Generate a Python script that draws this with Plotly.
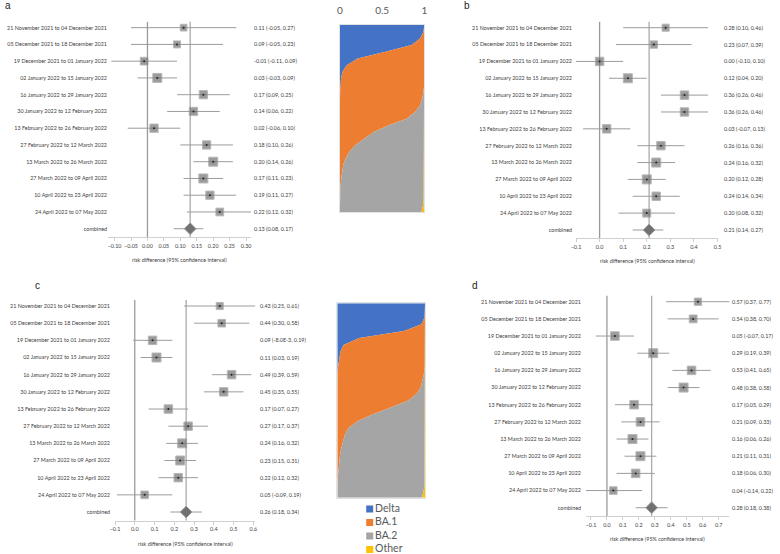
import plotly.graph_objects as go

W, H = 780, 554
FONT = "Lato"
TXT = "#404040"
SMALL = 5.4

periods = [
    "21 November 2021 to 04 December 2021",
    "05 December 2021 to 18 December 2021",
    "19 December 2021 to 01 January 2022",
    "02 January 2022 to 15 January 2022",
    "16 January 2022 to 29 January 2022",
    "30 January 2022 to 12 February 2022",
    "13 February 2022 to 26 February 2022",
    "27 February 2022 to 12 March 2022",
    "13 March 2022 to 26 March 2022",
    "27 March 2022 to 09 April 2022",
    "10 April 2022 to 23 April 2022",
    "24 April 2022 to 07 May 2022",
]
row_labels = periods + ["combined"]

# risk differences per fortnight, with 95% CI, and the pooled estimate
a_est = [0.11, 0.09, -0.01, 0.03, 0.17, 0.14, 0.02, 0.18, 0.20, 0.17, 0.19, 0.22]
a_lo = [-0.05, -0.05, -0.11, -0.03, 0.09, 0.06, -0.06, 0.10, 0.14, 0.11, 0.11, 0.12]
a_hi = [0.27, 0.23, 0.09, 0.09, 0.25, 0.22, 0.10, 0.26, 0.26, 0.23, 0.27, 0.32]
a_comb = [0.13, 0.08, 0.17]

b_est = [0.28, 0.23, 0.00, 0.12, 0.36, 0.36, 0.03, 0.26, 0.24, 0.20, 0.24, 0.20]
b_lo = [0.10, 0.07, -0.10, 0.04, 0.26, 0.26, -0.07, 0.16, 0.16, 0.12, 0.14, 0.08]
b_hi = [0.46, 0.39, 0.10, 0.20, 0.46, 0.46, 0.13, 0.36, 0.32, 0.28, 0.34, 0.32]
b_comb = [0.21, 0.14, 0.27]

c_est = [0.43, 0.44, 0.09, 0.11, 0.49, 0.45, 0.17, 0.27, 0.24, 0.23, 0.22, 0.05]
c_lo = [0.25, 0.30, -0.008, 0.03, 0.39, 0.35, 0.07, 0.17, 0.16, 0.15, 0.12, -0.09]
c_hi = [0.61, 0.58, 0.19, 0.19, 0.59, 0.55, 0.27, 0.37, 0.32, 0.31, 0.32, 0.19]
c_comb = [0.26, 0.18, 0.34]

d_est = [0.57, 0.54, 0.05, 0.29, 0.53, 0.48, 0.17, 0.21, 0.16, 0.21, 0.18, 0.04]
d_lo = [0.37, 0.38, -0.07, 0.19, 0.41, 0.38, 0.05, 0.09, 0.06, 0.11, 0.06, -0.14]
d_hi = [0.77, 0.70, 0.17, 0.39, 0.65, 0.58, 0.29, 0.33, 0.26, 0.31, 0.30, 0.22]
d_comb = [0.28, 0.18, 0.38]

# variant proportions, one row per sample slice from top to bottom
variants = ["Delta", "BA.1", "BA.2", "Other"]
variant_colors = ["#4472C4", "#ED7D31", "#A5A5A5", "#FFC000"]

top_delta = [1.0, 0.99, 0.95, 0.85, 0.54, 0.21, 0.08, 0.03, 0.012, 0.005, 0.002,
             0, 0, 0, 0, 0, 0, 0, 0, 0, 0, 0, 0, 0, 0, 0, 0, 0, 0]
top_ba1 = [0, 0.01, 0.05, 0.15, 0.46, 0.79, 0.92, 0.97, 0.988, 0.993, 0.988,
           0.975, 0.95, 0.89, 0.79, 0.58, 0.40, 0.28, 0.175, 0.11, 0.065,
           0.037, 0.022, 0.015, 0.006, 0.002, 0, 0, 0]
top_ba2 = [0, 0, 0, 0, 0, 0, 0, 0, 0, 0.002, 0.01, 0.025, 0.05, 0.11, 0.21,
           0.42, 0.599, 0.719, 0.824, 0.889, 0.933, 0.961, 0.976, 0.982,
           0.990, 0.993, 0.992, 0.985, 0.965]
top_other = [0, 0, 0, 0, 0, 0, 0, 0, 0, 0, 0, 0, 0, 0, 0, 0, 0.001, 0.001,
             0.001, 0.001, 0.002, 0.002, 0.002, 0.003, 0.004, 0.005, 0.008,
             0.015, 0.035]

low_delta = [1.0, 1.0, 0.995, 0.96, 0.76, 0.25, 0.07, 0.035, 0.02, 0.01, 0.003,
             0, 0, 0, 0, 0, 0, 0, 0, 0, 0, 0, 0, 0, 0, 0, 0, 0, 0]
low_ba1 = [0, 0, 0.005, 0.04, 0.24, 0.75, 0.93, 0.965, 0.98, 0.987, 0.987,
           0.975, 0.955, 0.91, 0.81, 0.61, 0.40, 0.23, 0.125, 0.085, 0.06,
           0.043, 0.03, 0.02, 0.013, 0.007, 0.003, 0, 0]
low_ba2 = [0, 0, 0, 0, 0, 0, 0, 0, 0, 0.003, 0.01, 0.025, 0.045, 0.09, 0.19,
           0.39, 0.60, 0.77, 0.875, 0.915, 0.94, 0.957, 0.97, 0.98, 0.987,
           0.992, 0.992, 0.985, 0.965]
low_other = [0, 0, 0, 0, 0, 0, 0, 0, 0, 0, 0, 0, 0, 0, 0, 0, 0, 0, 0, 0, 0, 0,
             0, 0, 0, 0.001, 0.005, 0.015, 0.035]


def fx(p):
    return p / W


def fy(p):
    return 1 - p / H


def fmt(v):
    if v != 0 and abs(v) < 0.01:
        return f"{v:.1E}".replace("E-0", "E-")
    return f"{v:.2f}"


fig = go.Figure()
annotations = []
shapes = []


def add_forest(n, est, lo, hi, comb, xrange, dtick, tfmt, xpx, ypx, txt_shift, standoff):
    key = "" if n == 1 else str(n)
    xa, ya = "x" + key, "y" + key
    rows = list(range(len(est)))
    widths = [h - l for l, h in zip(lo, hi)]
    sizes = [9 * (min(widths) / w) ** 0.3 for w in widths]

    fig.add_trace(go.Scatter(
        x=est, y=rows, xaxis=xa, yaxis=ya, mode="markers", showlegend=False,
        marker=dict(symbol="square", size=sizes, color="#717171",
                    line=dict(color="#9a9a9a", width=1)),
        error_x=dict(type="data", symmetric=False,
                     array=[h - e for e, h in zip(est, hi)],
                     arrayminus=[e - l for e, l in zip(est, lo)],
                     color="#9c9c9c", thickness=1, width=0),
    ))
    # small point in the middle of each box
    fig.add_trace(go.Scatter(
        x=est, y=rows, xaxis=xa, yaxis=ya, mode="markers", showlegend=False,
        marker=dict(size=2, color="#222222"),
    ))
    ci = len(est)
    fig.add_trace(go.Scatter(
        x=[comb[0]], y=[ci], xaxis=xa, yaxis=ya, mode="markers", showlegend=False,
        marker=dict(symbol="diamond", size=9, color="#717171",
                    line=dict(color="#9a9a9a", width=1)),
        error_x=dict(type="data", symmetric=False, array=[comb[2] - comb[0]],
                     arrayminus=[comb[0] - comb[1]], color="#9c9c9c",
                     thickness=1, width=0),
    ))

    for xv, col in [(0, "#9a9a9a"), (comb[0], "#ababab")]:
        shapes.append(dict(type="line", xref=xa, yref=f"{ya} domain", x0=xv, x1=xv,
                           y0=0, y1=1, layer="below",
                           line=dict(color=col, width=1.3)))

    for r, e, l, h in zip(rows + [ci], est + [comb[0]], lo + [comb[1]], hi + [comb[2]]):
        annotations.append(dict(
            xref=f"{xa} domain", yref=ya, x=1, y=r, xanchor="left", yanchor="middle",
            xshift=txt_shift, showarrow=False, text=f"{fmt(e)} ({fmt(l)}, {fmt(h)})",
            font=dict(family=FONT, size=SMALL, color=TXT)))
    annotations.append(dict(
        xref=f"{xa} domain", yref=f"{ya} domain", x=0.5, y=0, yshift=-23,
        xanchor="center", yanchor="middle", showarrow=False,
        text="risk difference (95% confidence interval)",
        font=dict(family=FONT, size=SMALL, color=TXT)))

    fig.layout["xaxis" + key] = dict(
        domain=[fx(xpx[0]), fx(xpx[1])], range=xrange, anchor=ya, automargin=False,
        tick0=-0.1, dtick=dtick, tickformat=tfmt, tickangle=0, showgrid=False,
        zeroline=False, showline=True, linecolor="#d0d0d0", linewidth=1,
        ticks="outside", ticklen=3, tickcolor="#d0d0d0",
        tickfont=dict(family=FONT, size=SMALL, color=TXT))
    fig.layout["yaxis" + key] = dict(
        domain=[fy(ypx[1]), fy(ypx[0])], range=[12.5, -0.35], anchor=xa,
        automargin=False, tickvals=rows + [ci], ticktext=row_labels, ticks="",
        showgrid=False, zeroline=False, showline=False, ticklabelstandoff=standoff,
        tickfont=dict(family=FONT, size=SMALL, color=TXT))


add_forest(1, a_est, a_lo, a_hi, a_comb, [-0.12, 0.315], 0.05, ".2f",
           (108, 251), (21.8, 237.1), 1, 0)
add_forest(2, b_est, b_lo, b_hi, b_comb, [-0.1, 0.502], 0.1, ".1f",
           (576, 718), (21.8, 238.4), 4, 3)
add_forest(3, c_est, c_lo, c_hi, c_comb, [-0.1, 0.61], 0.1, ".1f",
           (115, 255.3), (300, 520.6), 3, 4)
add_forest(4, d_est, d_lo, d_hi, d_comb, [-0.131, 0.767], 0.1, ".1f",
           (586, 729.4), (295.7, 516.3), 1, 4)

# stacked variant share panels
panels = [
    (5, (340, 424.3), (25, 212.3), True, [top_delta, top_ba1, top_ba2, top_other]),
    (6, (337.3, 425), (303.3, 497.7), False, [low_delta, low_ba1, low_ba2, low_other]),
]
for n, xpx, ypx, labels, shares in panels:
    slices = list(range(len(shares[0])))
    for name, col, vals in zip(variants, variant_colors, shares):
        fig.add_trace(go.Scatter(
            x=vals, y=slices, xaxis=f"x{n}", yaxis=f"y{n}", mode="lines",
            stackgroup=f"s{n}", orientation="h", fillcolor=col,
            line=dict(width=0, color=col), showlegend=False, name=name))
    fig.layout[f"xaxis{n}"] = dict(
        domain=[fx(xpx[0]), fx(xpx[1])], range=[0, 1], anchor=f"y{n}", side="top",
        automargin=False, tickvals=[0, 0.5, 1], ticktext=["0", "0.5", "1"],
        showticklabels=labels, ticks="", showgrid=False, zeroline=False,
        showline=True, mirror=True, linecolor="#e2e2e2", ticklabelstandoff=6,
        tickfont=dict(family=FONT, size=10, color="#595959"))
    fig.layout[f"yaxis{n}"] = dict(
        domain=[fy(ypx[1]), fy(ypx[0])], range=[slices[-1], 0], anchor=f"x{n}",
        automargin=False, showticklabels=False, ticks="", showgrid=False,
        zeroline=False, showline=True, mirror=True, linecolor="#e2e2e2")

# legend under the lower share panel
fig.add_trace(go.Scatter(
    x=[0] * len(variants), y=variants, xaxis="x7", yaxis="y7",
    mode="markers+text", text=variants, textposition="middle right",
    marker=dict(symbol="square", size=7, color=variant_colors),
    textfont=dict(family=FONT, size=10.5, color="#595959"), showlegend=False,
    cliponaxis=False))
fig.layout["xaxis7"] = dict(domain=[fx(369.7), fx(430)], range=[0, 1], anchor="y7",
                            visible=False, automargin=False)
fig.layout["yaxis7"] = dict(domain=[fy(554), fy(502.25)], range=[3.333, -0.5],
                            anchor="x7", visible=False, type="category",
                            automargin=False)

for letter, xp, yp in [("a", 3, 5.5), ("b", 462, 5), ("c", 33, 285.5), ("d", 470, 285)]:
    annotations.append(dict(xref="paper", yref="paper", x=fx(xp), y=fy(yp),
                            xanchor="left", yanchor="middle", showarrow=False,
                            text=letter, font=dict(family="Liberation Sans", size=10,
                                                   color="#222222")))

fig.update_layout(
    width=W, height=H, margin=dict(l=0, r=0, t=0, b=0),
    paper_bgcolor="white", plot_bgcolor="white",
    annotations=annotations, shapes=shapes, showlegend=False,
)

# drop the default page margin so the figure sits at the window corner
fig.write_html("out.html", config={"displayModeBar": False},
               post_script="document.body.style.margin = '0px';")
